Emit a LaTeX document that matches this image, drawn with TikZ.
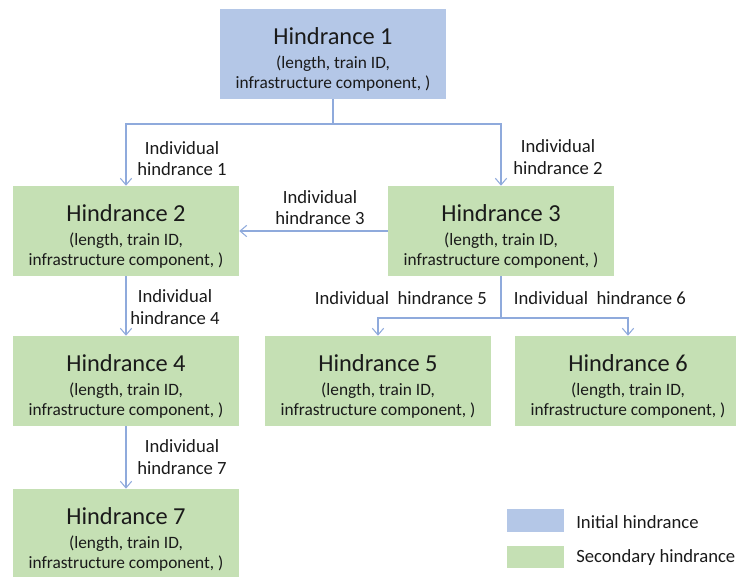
\documentclass[tikz,border=0pt]{standalone}
\usepackage{fontspec}
\setmainfont{Carlito}
\usetikzlibrary{arrows.meta}
\definecolor{initblue}{HTML}{B4C7E7}
\definecolor{secgreen}{HTML}{C5E0B4}
\definecolor{linkblue}{HTML}{8FAADC}
\definecolor{txtcol}{HTML}{1A1A1A}
\newcommand{\bigf}{\fontsize{18.3}{14.6}\selectfont}
\newcommand{\smallf}{\fontsize{13}{14.6}\selectfont}
\newcommand{\topstrut}{\rule{0pt}{20.5pt}}
\tikzset{
  hindbox/.style={minimum width=169.5pt, minimum height=67.5pt, inner sep=0pt,
    align=center, text=txtcol, font=\smallf},
  initbox/.style={hindbox, fill=initblue},
  secbox/.style={hindbox, fill=secgreen},
  link/.style={draw=linkblue, line width=0.8pt},
  arr/.style={link, -{Straight Barb[length=5pt,width=8.5pt]}},
  lbl/.style={align=center, text=txtcol, font=\fontsize{14}{16}\selectfont, inner sep=0pt},
  legtxt/.style={anchor=west, text=txtcol, font=\fontsize{14}{16}\selectfont, inner sep=0pt},
  legkey/.style={minimum width=42.75pt, minimum height=17pt, inner sep=0pt}
}
\begin{document}
\begin{tikzpicture}[x=0.75pt,y=-0.75pt]
\useasboundingbox (0,0) rectangle (736,576);
\clip (0,0) rectangle (736,576);
% boxes
\node[initbox] (b1) at (333,54) {\topstrut\bigf Hindrance 1\\[3.4pt](length, train ID,\\infrastructure component, )};
\node[secbox] (b2) at (126,231) {\topstrut\bigf Hindrance 2\\[3.4pt](length, train ID,\\infrastructure component, )};
\node[secbox] (b3) at (501,231) {\topstrut\bigf Hindrance 3\\[3.4pt](length, train ID,\\infrastructure component, )};
\node[secbox] (b4) at (126,381) {\topstrut\bigf Hindrance 4\\[3.4pt](length, train ID,\\infrastructure component, )};
\node[secbox] (b5) at (378,381) {\topstrut\bigf Hindrance 5\\[3.4pt](length, train ID,\\infrastructure component, )};
\node[secbox] (b6) at (628,381) {\topstrut\bigf Hindrance 6\\[3.4pt](length, train ID,\\infrastructure component, )};
\node[secbox] (b7) at (126,534) {\topstrut\bigf Hindrance 7\\[3.4pt](length, train ID,\\infrastructure component, )};
% junctions
\coordinate (j1) at (333,124);
\coordinate (j3) at (501,318);
% connectors
\draw[link] (b1.south) -- (j1);
\draw[arr] (j1) -| (b2.north);
\draw[arr] (j1) -| (b3.north);
\draw[arr] (b3.west) -- (b2.east);
\draw[arr] (b2.south) -- (b4.north);
\draw[link] (b3.south) -- (j3);
\draw[arr] (j3) -| (b5.north);
\draw[arr] (j3) -| (b6.north);
\draw[arr] (b4.south) -- (b7.north);
% labels
\node[lbl] (l1) at (182,158.5) {Individual\\hindrance 1};
\node[lbl] (l2) at (558,157) {Individual\\hindrance 2};
\node[lbl] (l3) at (320,207.5) {Individual\\hindrance 3};
\node[lbl] (l4) at (175,307) {Individual\\hindrance 4};
\node[lbl] (l5) at (401,298) {Individual\ \ hindrance 5};
\node[lbl] (l6) at (600,298) {Individual\ \ hindrance 6};
\node[lbl] (l7) at (182,457) {Individual\\hindrance 7};
% legend
\node[legkey, fill=initblue] (k1) at (535.5,520.5) {};
\node[legkey, fill=secgreen] (k2) at (535.5,557) {};
\node[legtxt] (t1) at (576,522) {Initial hindrance};
\node[legtxt] (t2) at (576,558) {Secondary hindrance};
\end{tikzpicture}
\end{document}
